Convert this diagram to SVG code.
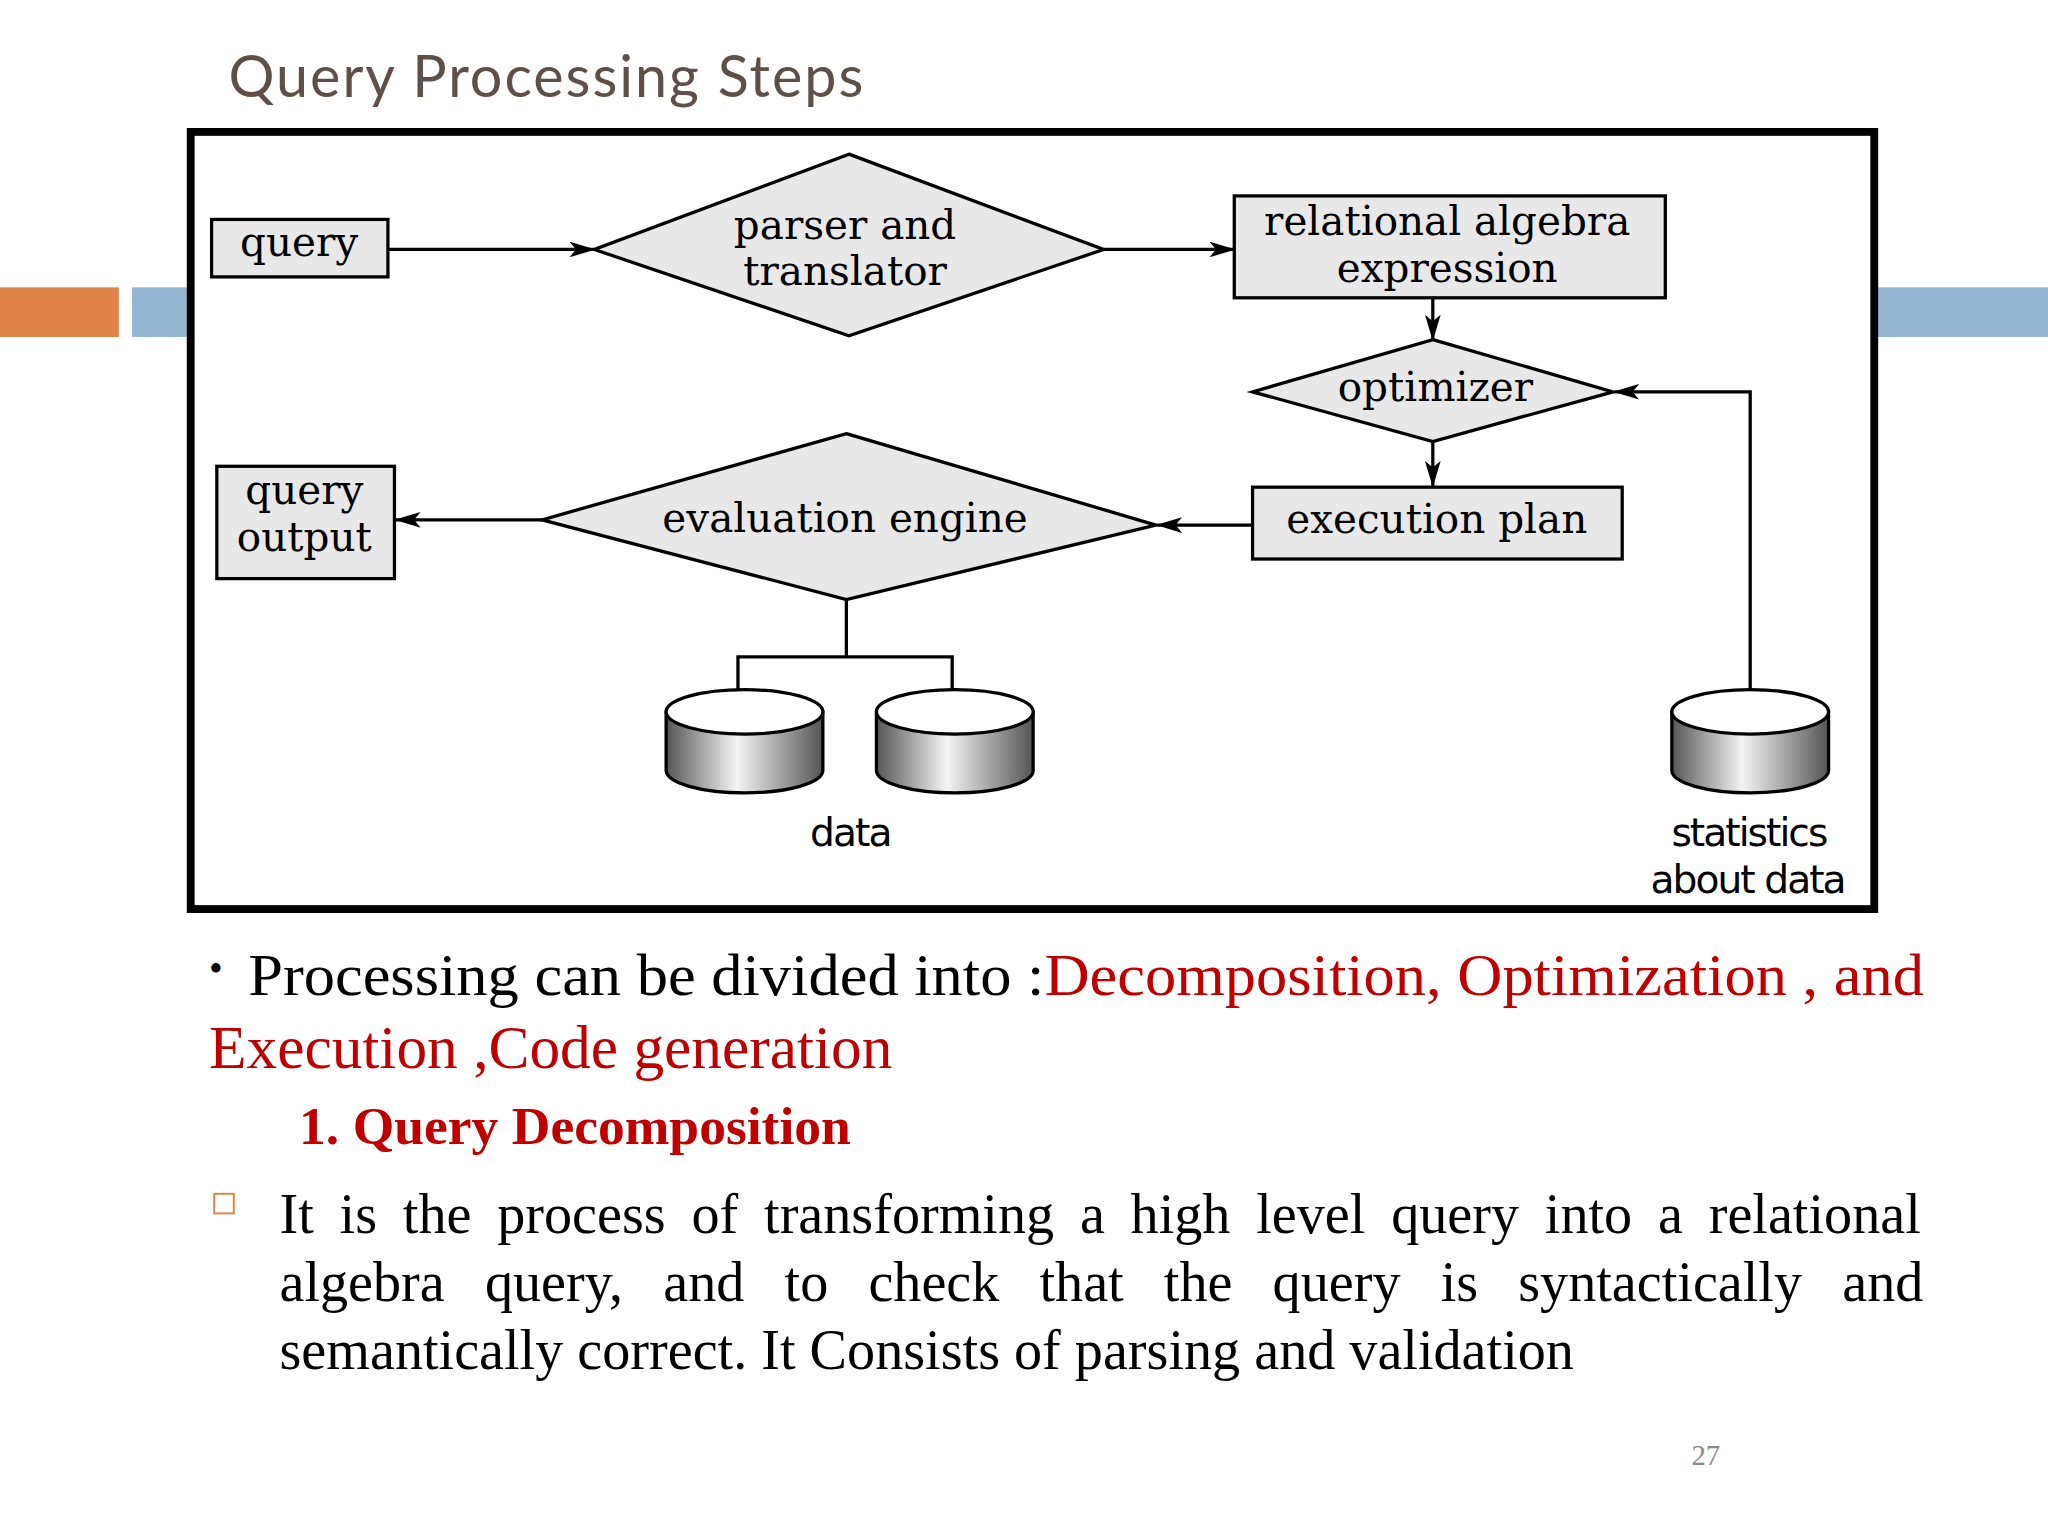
<svg xmlns="http://www.w3.org/2000/svg" width="2048" height="1536" viewBox="0 0 2048 1536">
<style>
.box{fill:#e8e8e8;stroke:#000;stroke-width:2.5}
.lbl{font-family:"DejaVu Serif","Liberation Serif",serif;font-size:31px;fill:#000;text-anchor:middle}
.sl{font-family:"DejaVu Sans","Open Sans",sans-serif;font-size:30px;fill:#000;text-anchor:middle;letter-spacing:-1.5px}
.ln{fill:none;stroke:#000;stroke-width:2.5}
.body{font-family:"Liberation Serif","Times New Roman",serif;fill:#000}
.red{fill:#c00000}
.cyl{fill:url(#cg);stroke:#000;stroke-width:2.5}
</style>
<defs>
<marker id="ar" markerWidth="20" markerHeight="12" refX="19" refY="6" orient="auto" markerUnits="userSpaceOnUse">
<path d="M0,0 L20,6 L0,12 L5,6 Z" fill="#000"/>
</marker>
<linearGradient id="cg" x1="0" x2="1" y1="0" y2="0">
<stop offset="0" stop-color="#555"/><stop offset="0.45" stop-color="#f4f4f4"/><stop offset="1" stop-color="#555"/>
</linearGradient>
</defs>
<rect width="2048" height="1536" fill="#fff"/>
<g transform="scale(1.30612)">
<text x="175" y="74" font-family="Lato,'Open Sans',sans-serif" font-size="44" fill="#5e5049" textLength="486">Query Processing Steps</text>
<rect x="0" y="220" width="91" height="38" fill="#e0844a"/>
<rect x="101" y="220" width="46" height="38" fill="#94b6d2"/>
<rect x="1434" y="220" width="134" height="38" fill="#94b6d2"/>
<rect x="146" y="101" width="1289" height="595" fill="#fff" stroke="#000" stroke-width="6"/>
<g id="connectors">
<line class="ln" x1="297" y1="191" x2="455" y2="191" marker-end="url(#ar)"/>
<line class="ln" x1="845" y1="191" x2="945" y2="191" marker-end="url(#ar)"/>
<line class="ln" x1="1097" y1="228" x2="1097" y2="260" marker-end="url(#ar)"/>
<line class="ln" x1="1097" y1="338" x2="1097" y2="372" marker-end="url(#ar)"/>
<line class="ln" x1="959" y1="402" x2="886" y2="402" marker-end="url(#ar)"/>
<line class="ln" x1="415" y1="398" x2="303" y2="398" marker-end="url(#ar)"/>
<path class="ln" d="M648,459 V503 M565,530 V503 H729 V530"/>
<path class="ln" d="M1340,528 V300 H1236" marker-end="url(#ar)"/>
</g>
<g id="query"><rect class="box" x="162" y="168" width="135" height="44"/><text class="lbl" x="229" y="196">query</text></g>
<g id="parser"><polygon class="box" points="650,118 845,191 650,257 455,191"/><text class="lbl" x="647" y="183">parser and</text><text class="lbl" x="647" y="218">translator</text></g>
<g id="ra"><rect class="box" x="945" y="150" width="330" height="78"/><text class="lbl" x="1108" y="180">relational algebra</text><text class="lbl" x="1108" y="216">expression</text></g>
<g id="optimizer"><polygon class="box" points="1097,260 1235,300 1097,338 959,300"/><text class="lbl" x="1099" y="307">optimizer</text></g>
<g id="plan"><rect class="box" x="959" y="373" width="283" height="55"/><text class="lbl" x="1100" y="408">execution plan</text></g>
<g id="eval"><polygon class="box" points="648,332 885,402 648,459 415,398"/><text class="lbl" x="647" y="407">evaluation engine</text></g>
<g id="output"><rect class="box" x="166" y="357" width="136" height="86"/><text class="lbl" x="233" y="386">query</text><text class="lbl" x="233" y="422">output</text></g>
<g id="data1"><path class="cyl" d="M510,545 V590 A60,17 0 0 0 630,590 V545 Z"/><ellipse cx="570" cy="545" rx="60" ry="17" fill="#fff" stroke="#000" stroke-width="2.5"/></g>
<g id="data2"><path class="cyl" d="M671,545 V590 A60,17 0 0 0 791,590 V545 Z"/><ellipse cx="731" cy="545" rx="60" ry="17" fill="#fff" stroke="#000" stroke-width="2.5"/></g>
<g id="stats"><path class="cyl" d="M1280,545 V590 A60,17 0 0 0 1400,590 V545 Z"/><ellipse cx="1340" cy="545" rx="60" ry="17" fill="#fff" stroke="#000" stroke-width="2.5"/></g>
<text class="sl" x="651" y="648">data</text>
<text class="sl" x="1339" y="648">statistics</text>
<text class="sl" x="1338" y="684">about data</text>
<text class="body" x="160" y="752" style="font-size:30px">•</text>
<text class="body" x="190" y="762" style="font-size:46px" textLength="1283" lengthAdjust="spacingAndGlyphs">Processing can be divided into :<tspan class="red">Decomposition, Optimization , and</tspan></text>
<text class="body red" x="160" y="818" style="font-size:47px">Execution ,Code generation</text>
<text class="body red" x="229" y="876" font-weight="bold" style="font-size:41px">1. Query Decomposition</text>
<rect x="164" y="914" width="15" height="15" fill="none" stroke="#e0844a" stroke-width="1.5"/>
<text class="body" x="214" y="944" style="font-size:43px" word-spacing="9">It is the process of transforming a high level query into a relational</text>
<text class="body" x="214" y="996" style="font-size:43px" word-spacing="20">algebra query, and to check that the query is syntactically and</text>
<text class="body" x="214" y="1048" style="font-size:43px">semantically correct. It Consists of parsing and validation</text>
<text x="1306" y="1122" font-family="'Liberation Serif',serif" font-size="22" fill="#8a8a8a" text-anchor="middle">27</text>
</g>
</svg>
